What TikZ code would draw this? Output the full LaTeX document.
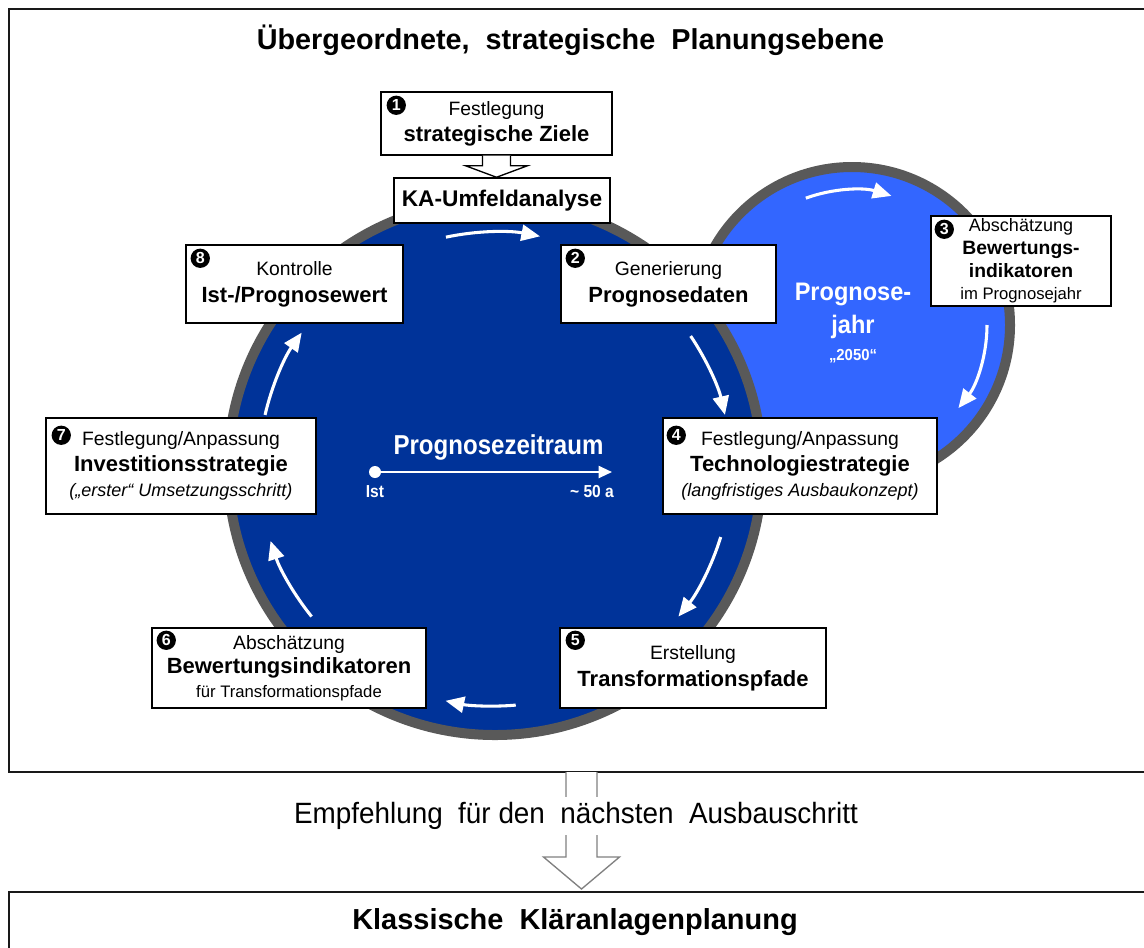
\documentclass[tikz,border=0pt]{standalone}
\usepackage{fontspec}
\usepackage{graphicx}
\setmainfont{Liberation Sans}
\usetikzlibrary{arrows.meta,calc}

\definecolor{deepblue}{RGB}{0,51,153}
\definecolor{lightblue}{RGB}{51,102,255}
\definecolor{ringgray}{RGB}{89,89,89}
\definecolor{arrowgray}{RGB}{128,128,128}

% line styles used in the boxes
\newcommand\txR{\fontsize{14.5}{17}\selectfont}
\newcommand\txB{\fontsize{16.5}{19}\selectfont\bfseries}
\newcommand\txS{\fontsize{12.5}{15}\selectfont}
\newcommand\txI{\fontsize{13.5}{16}\selectfont\itshape}

\begin{document}
\begin{tikzpicture}[x=0.75pt,y=-0.75pt,
  box/.style={draw=black, line width=1.1pt, fill=white, align=center, inner sep=0pt},
  sz/.style 2 args={minimum width=#1*0.75pt, minimum height=#2*0.75pt},
  badge/.style={circle, fill=black, text=white, inner sep=0pt, minimum size=14.5pt,
    font=\fontsize{12}{12}\selectfont\bfseries},
  ringcircle/.style={circle, draw=ringgray, line width=7.5pt, inner sep=0pt},
  warrow/.style={white, line width=2.3pt, -{Triangle[length=14pt,width=12pt]}},
  frame/.style={draw=black!90, line width=1.6pt},
  hollowblack/.style={draw=black, line width=1pt, fill=white, line join=miter},
  hollowgray/.style={draw=arrowgray, line width=1pt, fill=white, line join=miter},
  wtext/.style={text=white, font=\bfseries, inner sep=0pt}
]
\useasboundingbox (0,0) rectangle (1144,947);
\clip (0,0) rectangle (1144,947);

% frames of the two planning levels
\draw[frame] (9,9) rectangle (1170,772);
\draw[frame] (9,892) rectangle (1170,990);
\coordinate (upbot) at (581.5,772);
\coordinate (lowtop) at (581.5,892);

% forecast year and forecast period circles
\node[ringcircle, fill=lightblue, minimum size=316*0.75pt] (year) at (852,325) {};
\node[ringcircle, fill=deepblue, minimum size=534*0.75pt] (period) at (495,468) {};

% cycle arrows on the large circle
\draw[warrow] ($(period.center)+(-102:236)$) arc[start angle=-102, end angle=-79, radius=236];
\draw[warrow] ($(period.center)+(-34:236)$) arc[start angle=-34, end angle=-13, radius=236];
\draw[warrow] ($(period.center)+(17:236)$) arc[start angle=17, end angle=39, radius=236];
\draw[warrow] ($(period.center)+(85:238)$) arc[start angle=85, end angle=102, radius=238];
\draw[warrow] ($(period.center)+(141:236)$) arc[start angle=141, end angle=162, radius=236];
\draw[warrow] ($(period.center)+(193:236)$) arc[start angle=193, end angle=215, radius=236];

% cycle arrows on the small circle
\draw[warrow] ($(year.center)+(-110:135)$) arc[start angle=-110, end angle=-73, radius=135];
\draw[warrow] ($(year.center)+(0:135)$) arc[start angle=0, end angle=38, radius=135];

% time axis
\node[wtext, font=\fontsize{20.5}{24}\selectfont\bfseries] (ptitle) at (498.5,447)
  {\scalebox{0.88}[1]{Prognosezeitraum}};
\node[circle, fill=white, inner sep=0pt, minimum size=9pt] (ist) at (375,472) {};
\coordinate (axend) at (612,472);
\draw[white, line width=1.5pt, -{Triangle[length=10pt,width=9pt]}] (ist) -- (axend);
\node[wtext, font=\fontsize{13}{15}\selectfont\bfseries] (istlbl) at (375,492) {\scalebox{0.9}[1]{Ist}};
\node[wtext, font=\fontsize{13}{15}\selectfont\bfseries] (endlbl) at (592,492) {\scalebox{0.9}[1]{\textasciitilde\ 50 a}};

% forecast year label
\node[wtext, align=center, font=\fontsize{19}{25}\selectfont\bfseries] (yearlbl) at (853,311)
  {\scalebox{0.93}[1]{Prognose-}\\\scalebox{0.93}[1]{jahr}};
\node[wtext, font=\fontsize{12}{14}\selectfont\bfseries] (yearnum) at (853,356) {\scalebox{0.93}[1]{„2050“}};

% process steps
\node[box, sz={231}{63}, font=\fontsize{14.5}{19.5}\selectfont] (b1) at (496.5,123.5)
  {{\txR Festlegung}\\{\txB strategische Ziele}};
\node[box, sz={216}{45}, font=\fontsize{17}{20}\selectfont\bfseries] (ka) at (502,200.5)
  {KA-Umfeldanalyse};
\node[box, sz={215}{78}, font=\fontsize{14.5}{20}\selectfont] (b2) at (668.5,284)
  {{\txR Generierung}\\{\txB Prognosedaten}};
\node[box, sz={180}{90}, font=\fontsize{13.5}{17}\selectfont] (b3) at (1021,261)
  {{\fontsize{13.5}{16}\selectfont Abschätzung}\\{\fontsize{14.5}{17}\selectfont\bfseries Bewertungs-}\\
   {\fontsize{14.5}{17}\selectfont\bfseries indikatoren}\\{\fontsize{12.5}{15}\selectfont im Prognosejahr}};
\node[box, sz={274}{96}, font=\fontsize{14.5}{19}\selectfont] (b4) at (800,466)
  {{\txR Festlegung/Anpassung}\\{\txB Technologiestrategie}\\{\txI (langfristiges Ausbaukonzept)}};
\node[box, sz={266}{80}, font=\fontsize{14.5}{20}\selectfont] (b5) at (693,668)
  {{\txR Erstellung}\\{\txB Transformationspfade}};
\node[box, sz={274}{80}, font=\fontsize{14.5}{18}\selectfont] (b6) at (289,668)
  {{\txR Abschätzung}\\{\txB Bewertungsindikatoren}\\{\txS für Transformationspfade}};
\node[box, sz={270}{96}, font=\fontsize{14.5}{19}\selectfont] (b7) at (181,466)
  {{\txR Festlegung/Anpassung}\\{\txB Investitionsstrategie}\\{\txI („erster“ Umsetzungsschritt)}};
\node[box, sz={217}{78}, font=\fontsize{14.5}{20}\selectfont] (b8) at (294.5,284)
  {{\txR Kontrolle}\\{\txB Ist-/Prognosewert}};

% step numbers
\node[badge] (n1) at ($(b1.north west)+(16,14)$) {1};
\node[badge] (n2) at ($(b2.north west)+(15,14)$) {2};
\node[badge] (n3) at ($(b3.north west)+(14,14)$) {3};
\node[badge] (n4) at ($(b4.north west)+(14,18)$) {4};
\node[badge] (n5) at ($(b5.north west)+(16,13)$) {5};
\node[badge] (n6) at ($(b6.north west)+(15,13)$) {6};
\node[badge] (n7) at ($(b7.north west)+(16,18)$) {7};
\node[badge] (n8) at ($(b8.north west)+(15,14)$) {8};

% block arrow from the goals to the environment analysis
\draw[hollowblack] ($(b1.south)+(-14,0)$) -- ++(0,10) -- ++(-17,0)
  -- (b1.south |- ka.north) -- ($(b1.south)+(31,10)$) -- ++(-17,0) -- ++(0,-10);

% block arrow between the planning levels
\draw[hollowgray] ($(upbot)+(-15.5,0)$) -- ($(lowtop)+(-15.5,-35)$) -- ($(lowtop)+(-38,-35)$)
  -- ($(lowtop)+(0,-3)$) -- ($(lowtop)+(38,-35)$) -- ($(lowtop)+(15.5,-35)$) -- ($(upbot)+(15.5,0)$);

% headings
\node[font=\fontsize{21.6}{25}\selectfont\bfseries, inner sep=0pt] (title) at (570.5,40)
  {Übergeordnete,\ \ strategische\ \ Planungsebene};
\node[fill=white, inner xsep=0pt, inner ysep=4pt, font=\fontsize{22}{26}\selectfont] (rec) at (576,816)
  {\scalebox{0.95}[1]{Empfehlung\ \ für\ den\ \ nächsten\ \ Ausbauschritt}};
\node[font=\fontsize{21.7}{25}\selectfont\bfseries, inner sep=0pt] (classic) at (575,922)
  {Klassische\ \ Kläranlagenplanung};
\end{tikzpicture}
\end{document}
